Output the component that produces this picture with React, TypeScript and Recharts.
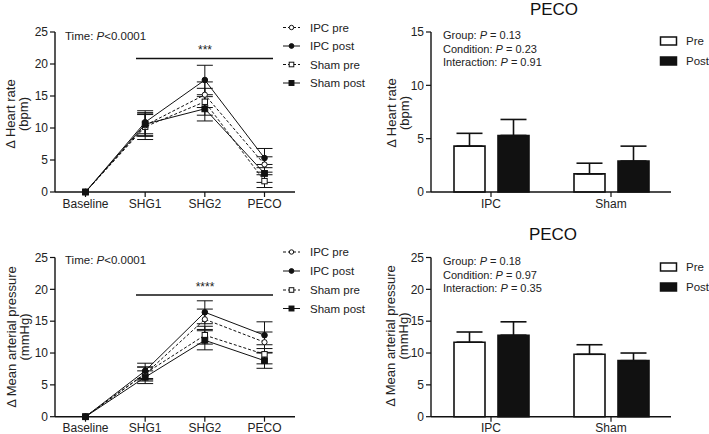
import React from 'react';
import { LineChart, Line, BarChart, Bar, XAxis, YAxis, ErrorBar } from 'recharts';

const FONT = '"Liberation Sans", Arial, Helvetica, sans-serif';

// ---------- data ----------
const phases = ['Baseline', 'SHG1', 'SHG2', 'PECO'];
const seriesNames = ['IPC pre', 'IPC post', 'Sham pre', 'Sham post'];
const groups = ['IPC', 'Sham'];
const conditions = ['Pre', 'Post'];

// Heart rate (bpm)
const hrIpcPre = [0, 10.4, 15.2, 4.3];
const hrIpcPreErr = [0, 1.7, 2.0, 1.2];
const hrIpcPost = [0, 10.9, 17.5, 5.3];
const hrIpcPostErr = [0, 1.8, 2.3, 1.5];
const hrShamPre = [0, 10.2, 14.1, 1.7];
const hrShamPreErr = [0, 2.0, 2.1, 1.0];
const hrShamPost = [0, 10.6, 13.0, 2.9];
const hrShamPostErr = [0, 1.8, 1.9, 1.4];

// Mean arterial pressure (mmHg)
const mapIpcPre = [0, 6.7, 15.3, 11.7];
const mapIpcPreErr = [0, 1.1, 1.6, 1.6];
const mapIpcPost = [0, 7.2, 16.4, 12.8];
const mapIpcPostErr = [0, 1.2, 1.8, 2.1];
const mapShamPre = [0, 6.8, 12.8, 9.8];
const mapShamPreErr = [0, 1.0, 1.4, 1.5];
const mapShamPost = [0, 6.2, 12.0, 8.8];
const mapShamPostErr = [0, 1.0, 1.5, 1.2];

const hrTicks = [0, 5, 10, 15, 20, 25];
const hrBarTicks = [0, 5, 10, 15];
const mapTicks = [0, 5, 10, 15, 20, 25];

const hrStats = [
  ['Group: ', 'P', ' = 0.13'],
  ['Condition: ', 'P', ' = 0.23'],
  ['Interaction: ', 'P', ' = 0.91'],
];
const mapStats = [
  ['Group: ', 'P', ' = 0.18'],
  ['Condition: ', 'P', ' = 0.97'],
  ['Interaction: ', 'P', ' = 0.35'],
];

// ---------- build tables ----------
const buildLineRows = (vals: number[][], errs: number[][]) =>
  phases.map((p, i) => {
    const row: any = { phase: p };
    vals.forEach((v, k) => {
      row['s' + k] = v[i];
      row['e' + k] = errs[k][i];
    });
    return row;
  });

const hrRows = buildLineRows(
  [hrIpcPre, hrIpcPost, hrShamPre, hrShamPost],
  [hrIpcPreErr, hrIpcPostErr, hrShamPreErr, hrShamPostErr]
);
const mapRows = buildLineRows(
  [mapIpcPre, mapIpcPost, mapShamPre, mapShamPost],
  [mapIpcPreErr, mapIpcPostErr, mapShamPreErr, mapShamPostErr]
);

const PECO = 3;
const buildBarRows = (
  ipcPre: number[], ipcPreE: number[], ipcPost: number[], ipcPostE: number[],
  shPre: number[], shPreE: number[], shPost: number[], shPostE: number[]
) => [
  { group: groups[0], pre: ipcPre[PECO], preErr: [0, ipcPreE[PECO]], post: ipcPost[PECO], postErr: [0, ipcPostE[PECO]] },
  { group: groups[1], pre: shPre[PECO], preErr: [0, shPreE[PECO]], post: shPost[PECO], postErr: [0, shPostE[PECO]] },
];
const hrBarRows = buildBarRows(hrIpcPre, hrIpcPreErr, hrIpcPost, hrIpcPostErr, hrShamPre, hrShamPreErr, hrShamPost, hrShamPostErr);
const mapBarRows = buildBarRows(mapIpcPre, mapIpcPreErr, mapIpcPost, mapIpcPostErr, mapShamPre, mapShamPreErr, mapShamPost, mapShamPostErr);

// ---------- styles ----------
const seriesStyle = [
  { shape: 'circle', filled: false, dash: '3 2' },
  { shape: 'circle', filled: true, dash: undefined },
  { shape: 'square', filled: false, dash: '3 2' },
  { shape: 'square', filled: true, dash: undefined },
];
const drawOrder = [2, 0, 3, 1];
const INK = '#111';
const tickStyle = { fill: '#222', fontSize: 12, fontFamily: FONT };

const Marker = ({ cx, cy, shape, filled, scale = 1 }: any) => {
  if (cx == null || cy == null || isNaN(cx) || isNaN(cy)) return null;
  const fill = filled ? INK : '#fff';
  if (shape === 'circle') {
    return <circle cx={cx} cy={cy} r={(filled ? 2.8 : 2.6) * scale} fill={fill} stroke={INK} strokeWidth={1} />;
  }
  const s = (filled ? 2.9 : 2.7) * scale;
  return <rect x={cx - s} y={cy - s} width={2 * s} height={2 * s} fill={fill} stroke={INK} strokeWidth={1} />;
};

const makeDot = (shape: string, filled: boolean) => (props: any) => (
  <Marker key={'d' + props.index} cx={props.cx} cy={props.cy} shape={shape} filled={filled} />
);

const LinePanel = ({ rows, ticks, top, height, marginTop, xAxisHeight }: any) => (
  <div style={{ position: 'absolute', left: 0, top, width: 360, height }}>
    <LineChart
      width={360}
      height={height}
      data={rows}
      margin={{ top: marginTop, right: 65, bottom: 0, left: 0 }}
      style={{ overflow: 'visible' }}
    >
      <XAxis
        dataKey="phase"
        scale="point"
        padding={{ left: 30.5, right: 30.5 }}
        height={xAxisHeight}
        tick={tickStyle}
        tickSize={5}
        tickMargin={2}
        axisLine={{ stroke: INK, strokeWidth: 1.4 }}
        tickLine={{ stroke: INK, strokeWidth: 1.2 }}
        interval={0}
      />
      <YAxis
        width={55}
        domain={[0, 25]}
        ticks={ticks}
        tick={tickStyle}
        tickSize={5}
        tickMargin={2}
        axisLine={{ stroke: INK, strokeWidth: 1.4 }}
        tickLine={{ stroke: INK, strokeWidth: 1.2 }}
        interval={0}
      />
      {drawOrder.map((k) => (
        <Line
          key={k}
          dataKey={'s' + k}
          name={seriesNames[k]}
          stroke={INK}
          strokeWidth={1}
          strokeDasharray={seriesStyle[k].dash}
          dot={makeDot(seriesStyle[k].shape, seriesStyle[k].filled)}
          activeDot={false}
          isAnimationActive={false}
        >
          <ErrorBar dataKey={'e' + k} width={8} stroke={INK} strokeWidth={1} direction="y" />
        </Line>
      ))}
    </LineChart>
  </div>
);

const BarPanel = ({ rows, ticks, max, top, height, marginTop, xAxisHeight }: any) => (
  <div style={{ position: 'absolute', left: 360, top, width: 349, height }}>
    <BarChart
      width={349}
      height={height}
      data={rows}
      margin={{ top: marginTop, right: 38, bottom: 0, left: 0 }}
      barGap={13}
      style={{ overflow: 'visible' }}
    >
      <XAxis
        dataKey="group"
        height={xAxisHeight}
        tick={tickStyle}
        tickSize={5}
        tickMargin={2}
        axisLine={{ stroke: INK, strokeWidth: 1.4 }}
        tickLine={{ stroke: INK, strokeWidth: 1.2 }}
      />
      <YAxis
        width={71}
        domain={[0, max]}
        ticks={ticks}
        tick={tickStyle}
        tickSize={5}
        tickMargin={2}
        axisLine={{ stroke: INK, strokeWidth: 1.4 }}
        tickLine={{ stroke: INK, strokeWidth: 1.2 }}
        interval={0}
      />
      <Bar dataKey="pre" name={conditions[0]} fill="#fff" stroke={INK} strokeWidth={1.6} barSize={31} isAnimationActive={false}>
        <ErrorBar dataKey="preErr" width={13} stroke={INK} strokeWidth={1.6} direction="y" />
      </Bar>
      <Bar dataKey="post" name={conditions[1]} fill={INK} stroke={INK} strokeWidth={1.6} barSize={31} isAnimationActive={false}>
        <ErrorBar dataKey="postErr" width={13} stroke={INK} strokeWidth={1.6} direction="y" />
      </Bar>
    </BarChart>
  </div>
);

const YLabel = ({ x1, x2, cy, l1, l2 }: any) => (
  <g fontFamily={FONT} fontSize={13} fill="#222" textAnchor="middle">
    <text x={x1} y={cy} transform={`rotate(-90 ${x1} ${cy})`} dominantBaseline="central">{l1}</text>
    <text x={x2} y={cy} transform={`rotate(-90 ${x2} ${cy})`} dominantBaseline="central">{l2}</text>
  </g>
);

const LineLegend = ({ rowsY }: any) => (
  <g fontFamily={FONT} fontSize={11.5} fill="#222">
    {seriesNames.map((n, k) => (
      <g key={n}>
        <line x1={283} x2={300} y1={rowsY[k]} y2={rowsY[k]} stroke={INK} strokeWidth={1} strokeDasharray={seriesStyle[k].dash} />
        <Marker cx={291.5} cy={rowsY[k]} shape={seriesStyle[k].shape} filled={seriesStyle[k].filled} scale={0.85} />
        <text x={310} y={rowsY[k] + 4}>{n}</text>
      </g>
    ))}
  </g>
);

const BarLegend = ({ rowsY }: any) => (
  <g fontFamily={FONT} fontSize={11.5} fill="#222">
    {conditions.map((c, k) => (
      <g key={c}>
        <rect x={660.5} y={rowsY[k] - 4} width={16} height={8} fill={k === 0 ? '#fff' : INK} stroke={INK} strokeWidth={1.5} />
        <text x={686} y={rowsY[k] + 4}>{c}</text>
      </g>
    ))}
  </g>
);

const Stats = ({ x, ys, items }: any) => (
  <g fontFamily={FONT} fontSize={11} fill="#222">
    {items.map((it: string[], i: number) => (
      <text key={i} x={x} y={ys[i]} style={{ whiteSpace: 'pre' }}>
        {it[0]}
        <tspan fontStyle="italic">{it[1]}</tspan>
        {it[2]}
      </text>
    ))}
  </g>
);

const TimeNote = ({ x, y }: any) => (
  <text x={x} y={y} fontFamily={FONT} fontSize={11.5} fill="#222" style={{ whiteSpace: 'pre' }}>
    {'Time: '}
    <tspan fontStyle="italic">P</tspan>
    {'<0.0001'}
  </text>
);

const Sig = ({ y, stars }: any) => (
  <g>
    <line x1={136} x2={273} y1={y} y2={y} stroke={INK} strokeWidth={1.6} />
    <text x={205} y={y - 4.5} textAnchor="middle" fontFamily={FONT} fontSize={12} fill="#222">{stars}</text>
  </g>
);

export default function App() {
  return (
    <div style={{ position: 'absolute', left: 0, top: 0, width: 709, height: 434, background: '#fff', overflow: 'hidden' }}>
      <LinePanel rows={hrRows} ticks={hrTicks} top={0} height={215} marginTop={32} xAxisHeight={23} />
      <BarPanel rows={hrBarRows} ticks={hrBarTicks} max={15} top={0} height={215} marginTop={32} xAxisHeight={23} />
      <LinePanel rows={mapRows} ticks={mapTicks} top={217} height={217} marginTop={40.5} xAxisHeight={17.3} />
      <BarPanel rows={mapBarRows} ticks={mapTicks} max={25} top={217} height={217} marginTop={40.5} xAxisHeight={17.3} />
      <svg width={709} height={434} style={{ position: 'absolute', left: 0, top: 0, pointerEvents: 'none' }}>
        <YLabel x1={10} x2={23} cy={114} l1="Δ Heart rate" l2="(bpm)" />
        <YLabel x1={391} x2={404} cy={113} l1="Δ Heart rate" l2="(bpm)" />
        <YLabel x1={11} x2={24} cy={337} l1="Δ Mean arterial pressure" l2="(mmHg)" />
        <YLabel x1={390} x2={403} cy={336} l1="Δ Mean arterial pressure" l2="(mmHg)" />

        <TimeNote x={65} y={39.5} />
        <TimeNote x={65} y={263.5} />
        <Sig y={58.5} stars="***" />
        <Sig y={295} stars="****" />

        <LineLegend rowsY={[27.5, 46, 64.5, 83]} />
        <LineLegend rowsY={[252, 271, 290, 308.5]} />

        <text x={554} y={15} textAnchor="middle" fontFamily={FONT} fontSize={17} fill="#111">PECO</text>
        <text x={553} y={239.5} textAnchor="middle" fontFamily={FONT} fontSize={17} fill="#111">PECO</text>

        <Stats x={443} ys={[39, 52.5, 66]} items={hrStats} />
        <Stats x={443} ys={[265, 278.5, 292]} items={mapStats} />

        <BarLegend rowsY={[41, 61]} />
        <BarLegend rowsY={[267, 287]} />
      </svg>
    </div>
  );
}
